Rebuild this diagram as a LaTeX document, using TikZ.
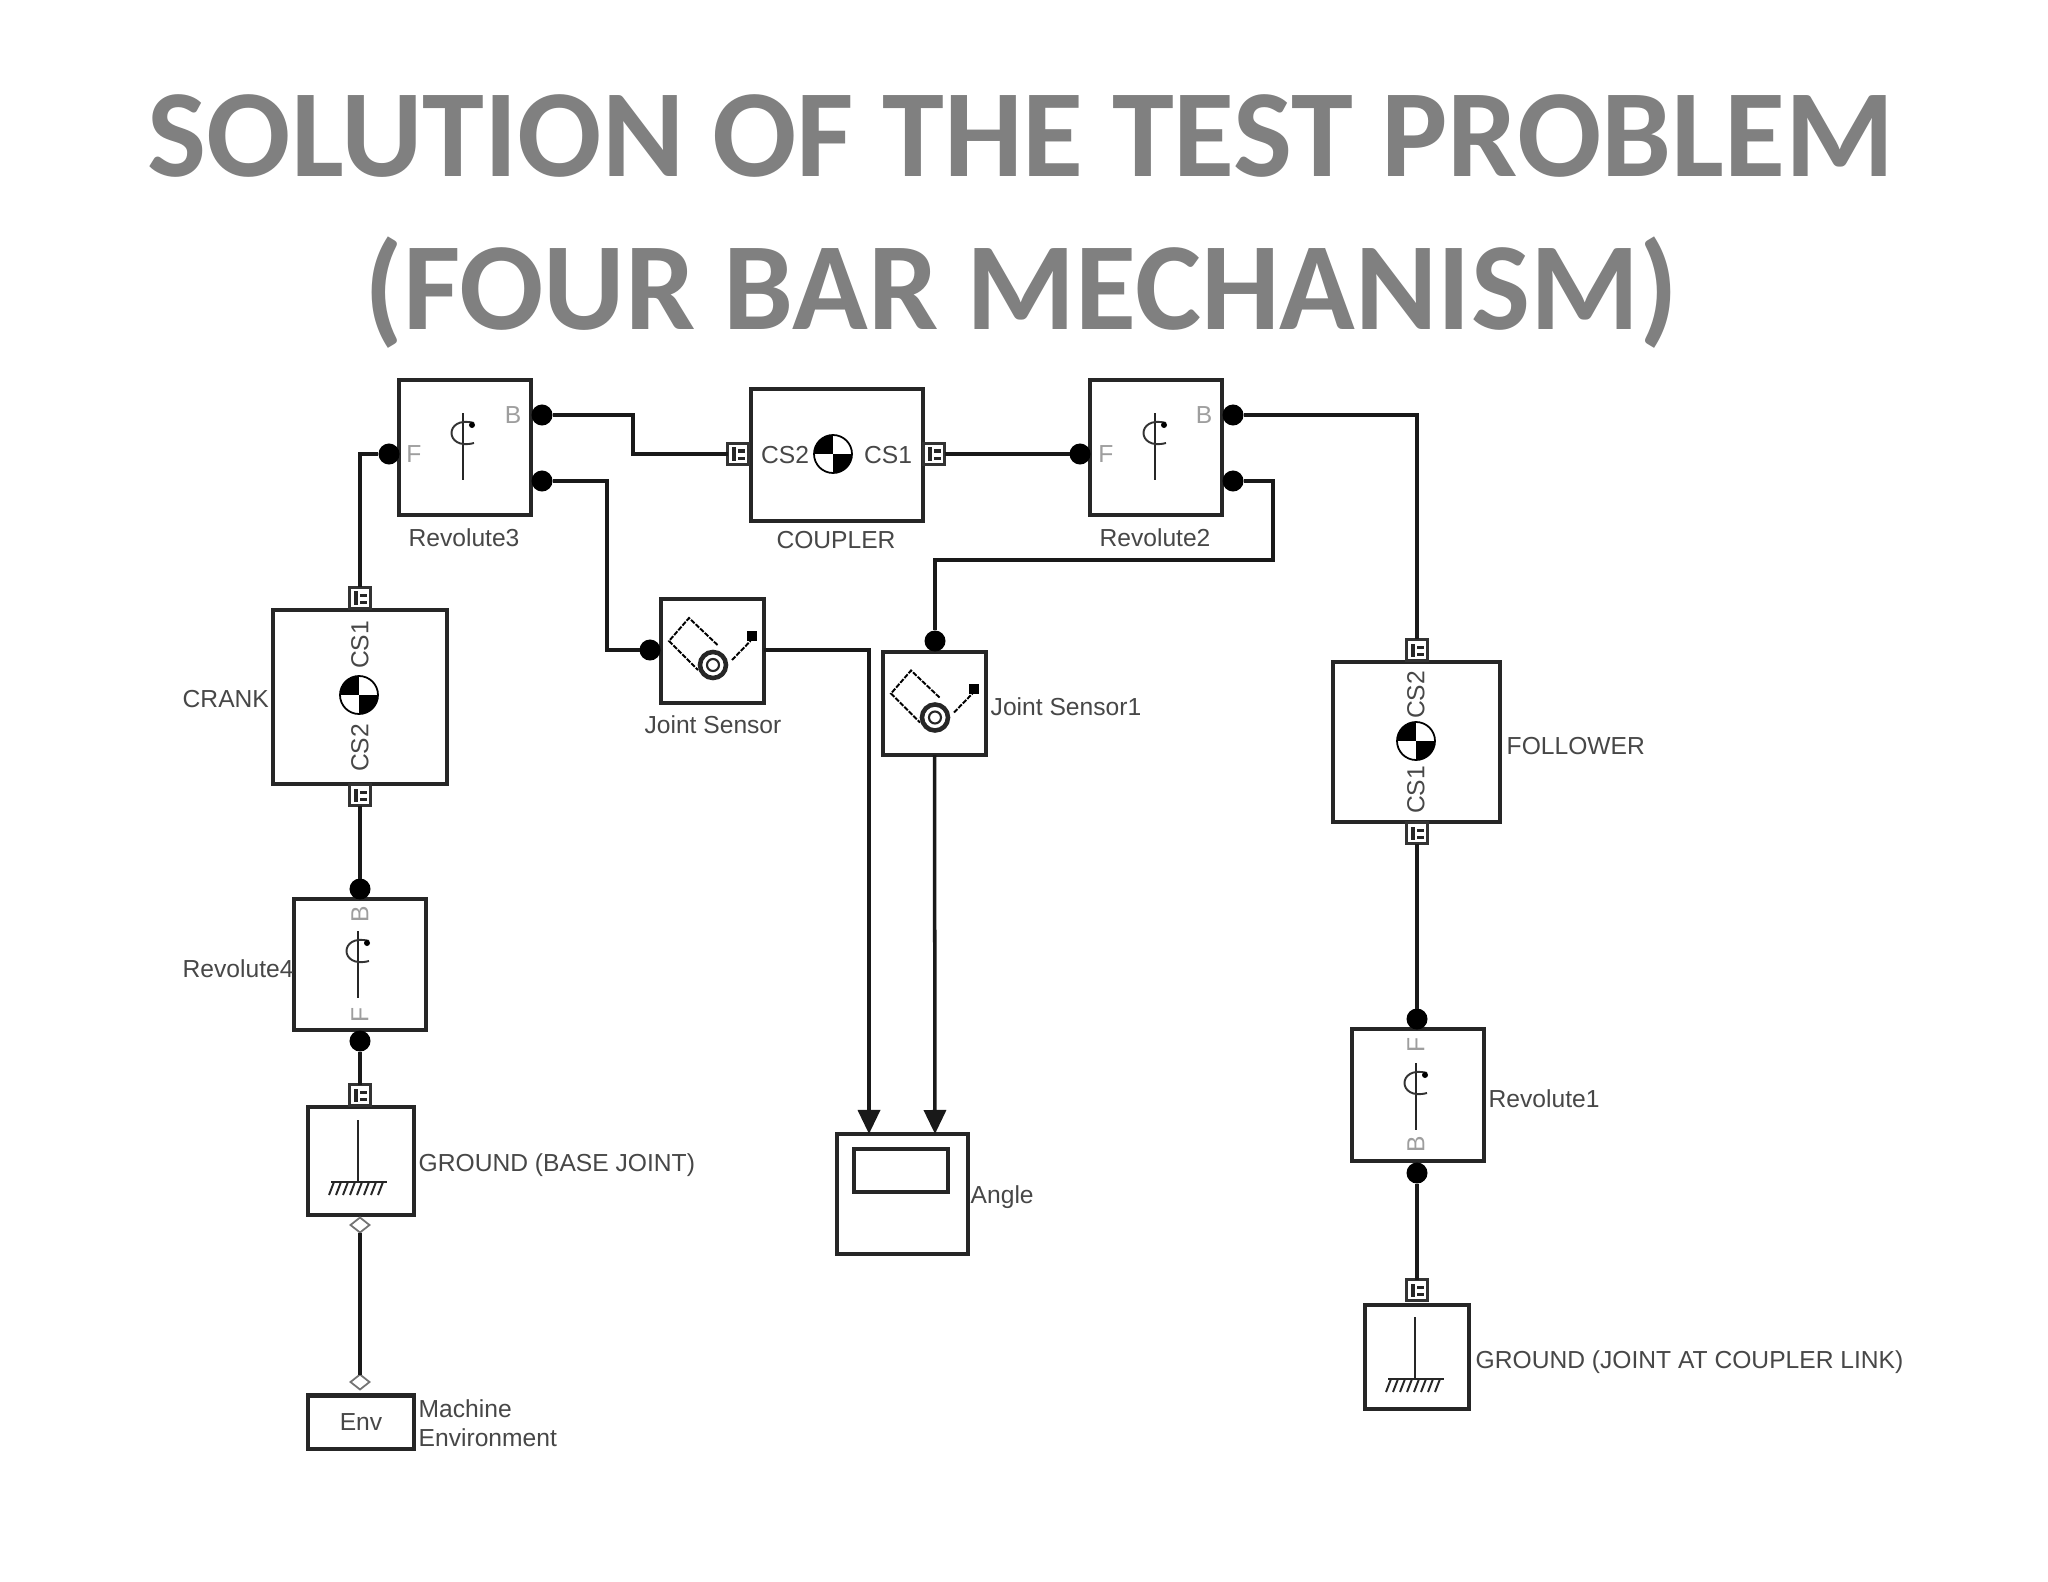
\documentclass[tikz,border=0pt]{standalone}
\usepackage{fontspec}
\setmainfont{Liberation Sans}
\newfontfamily\titlefont{Carlito}
\usepackage{tikz}
\usetikzlibrary{arrows.meta,shapes.geometric}
\begin{document}
\begin{tikzpicture}[x=0.01cm,y=-0.01cm,>={Triangle[length=2.4mm,width=2.2mm]},line cap=butt,
  font=\fontsize{7pt}{8pt}\selectfont,
  titletext/.style={anchor=base,text=black!50,font=\titlefont\bfseries\fontsize{35.5pt}{40pt}\selectfont},
  blockbox/.style={draw=black!85,text=black!72,line width=1.15pt,fill=white,inner sep=0pt,outer sep=0pt},
  blocklabel/.style={text=black!72,inner sep=0pt},
  jointletter/.style={text=black!38,inner sep=0pt},
  wire/.style={draw=black!90,line width=1pt},
  dot/.style={circle,fill=black,inner sep=0pt,outer sep=0pt,minimum size=2.1mm},
  portbox/.style={rectangle,draw=black!80,fill=white,line width=.7pt,inner sep=0pt,outer sep=0pt,minimum size=2.1mm,
    path picture={\fill[black!85] ([shift={(.4mm,.4mm)}]path picture bounding box.south west) rectangle +(.45mm,1.3mm);
      \fill[black!85] ([shift={(1mm,.5mm)}]path picture bounding box.south west) rectangle +(.7mm,.3mm);
      \fill[black!85] ([shift={(1mm,1.2mm)}]path picture bounding box.south west) rectangle +(.7mm,.3mm);}},
  portdiamond/.style={diamond,draw=black!55,fill=white,line width=.5pt,inner sep=0pt,outer sep=0pt,minimum width=1.9mm,minimum height=1.5mm},
  cgmark/.pic={
    \begin{scope}
    \clip (0,0) circle[radius=19];
    \fill (-19,-19) rectangle (0,0);
    \fill (0,0) rectangle (19,19);
    \end{scope}
    \draw[line width=.5pt] (0,0) circle[radius=19];},
  revmark/.pic={
    \draw[line width=.5pt,black!85] (0,0) -- (0,67);
    \draw[line width=.55pt,black!80] (11,10) .. controls (-19,2) and (-19,38) .. (11,30);
    \fill (9,12) circle[radius=3];},
  sensormark/.pic={
    \draw[line width=.55pt,dash pattern=on 1.4pt off .4pt,black] (5,-6) -- (-23.5,-33) -- (-43.5,-10) -- (-14.5,19);
    \draw[line width=1.3pt,black!85] (.5,14) circle[radius=13];
    \draw[line width=.6pt,black!85] (.5,14) circle[radius=6];
    \draw[line width=.55pt,dash pattern=on 1.4pt off .4pt,black] (19.5,9) -- (38,-10);
    \fill (34,-20) rectangle (44,-10);},
  groundmark/.pic={
    \draw[line width=.5pt,black!85] (0,0) -- (0,62);
    \draw[line width=.8pt,black!85] (-27,62) -- (29,62);
    \draw[line width=.55pt,black!85] (-24,62) -- (-29,75) (-17,62) -- (-22,75) (-10,62) -- (-15,75) (-3,62) -- (-8,75)
      (4,62) -- (-1,75) (11,62) -- (6,75) (18,62) -- (13,75) (25,62) -- (20,75);}]
\useasboundingbox (0,0) rectangle (2048,1582);
\fill[white] (0,0) rectangle (2048,1582);
\node[titletext] (title1) at (1021,176) {SOLUTION OF THE TEST PROBLEM};
\node[titletext] (title2) at (1021,329) {(FOUR BAR MECHANISM)};
% blocks
\node[blockbox,minimum width=1.32cm,minimum height=1.35cm] (rev3) at (465,447.5) {};
\node[blockbox,minimum width=1.71cm,minimum height=1.32cm] (coupler) at (837,455) {};
\node[blockbox,minimum width=1.32cm,minimum height=1.35cm] (rev2) at (1156,447.5) {};
\node[blockbox,minimum width=1.74cm,minimum height=1.74cm] (crank) at (360,697) {};
\node[blockbox,minimum width=1.03cm,minimum height=1.04cm] (sensor) at (712.5,651) {};
\node[blockbox,minimum width=1.03cm,minimum height=1.03cm] (sensor1) at (934.5,703.5) {};
\node[blockbox,minimum width=1.67cm,minimum height=1.60cm] (follower) at (1416.5,742) {};
\node[blockbox,minimum width=1.32cm,minimum height=1.31cm] (rev4) at (360,964.5) {};
\node[blockbox,minimum width=1.06cm,minimum height=1.08cm] (ground) at (361,1161) {};
\node[blockbox,minimum width=1.06cm,minimum height=.53cm] (env) at (361,1422) {Env};
\node[blockbox,minimum width=1.31cm,minimum height=1.20cm] (angle) at (902.5,1194) {};
\node[blockbox,minimum width=.94cm,minimum height=.43cm,line width=.9pt] (anglescreen) at (901,1170.5) {};
\node[blockbox,minimum width=1.32cm,minimum height=1.32cm] (rev1) at (1418,1095) {};
\node[blockbox,minimum width=1.04cm,minimum height=1.04cm] (ground1) at (1417,1357) {};
% block icons
\pic at (833,454) {cgmark};
\pic at (359,695) {cgmark};
\pic at (1416,741) {cgmark};
\pic at (463,413) {revmark};
\pic at (1155,413) {revmark};
\pic at (358,931) {revmark};
\pic at (1416,1063) {revmark};
\pic at (712.5,651) {sensormark};
\pic at (934.5,703.5) {sensormark};
\pic at (358,1120) {groundmark};
\pic at (1415,1317) {groundmark};
% letters inside the blocks
\node[jointletter] (rev3F) at (414,454) {F};
\node[jointletter] (rev3B) at (513,415) {B};
\node[jointletter] (rev2F) at (1106,454) {F};
\node[jointletter] (rev2B) at (1204,415) {B};
\node[jointletter,rotate=90] (rev4B) at (360,914) {B};
\node[jointletter,rotate=90] (rev4F) at (360,1015) {F};
\node[jointletter,rotate=90] (rev1F) at (1416,1045) {F};
\node[jointletter,rotate=90] (rev1B) at (1416,1144) {B};
\node[blocklabel] (couplerCSb) at (785,455) {CS2};
\node[blocklabel] (couplerCSa) at (888,455) {CS1};
\node[blocklabel,rotate=90] (crankCSa) at (360,645) {CS1};
\node[blocklabel,rotate=90] (crankCSb) at (360,748) {CS2};
\node[blocklabel,rotate=90] (followerCSb) at (1416,695) {CS2};
\node[blocklabel,rotate=90] (followerCSa) at (1416,790) {CS1};
% names of the blocks
\node[blocklabel] (rev3name) at (464,538) {Revolute3};
\node[blocklabel] (couplername) at (836,540) {COUPLER};
\node[blocklabel] (rev2name) at (1155,538) {Revolute2};
\node[blocklabel,anchor=west] (crankname) at (182,699) {CRANK};
\node[blocklabel] (sensorname) at (713,725) {Joint Sensor};
\node[blocklabel,anchor=west] (sensor1name) at (990,707) {Joint Sensor1};
\node[blocklabel,anchor=west] (followername) at (1506,746) {FOLLOWER};
\node[blocklabel,anchor=west] (rev4name) at (182,969) {Revolute4};
\node[blocklabel,anchor=west] (groundname) at (418,1165) {GROUND (BASE JOINT)};
\node[blocklabel,anchor=west] (anglename) at (970,1197) {Angle};
\node[blocklabel,anchor=west] (rev1name) at (1488,1099) {Revolute1};
\node[blocklabel,anchor=west] (ground1name) at (1475,1362) {GROUND (JOINT AT COUPLER LINK)};
\node[blocklabel,anchor=west] (envnamea) at (418,1409) {Machine};
\node[blocklabel,anchor=west] (envnameb) at (418,1438) {Environment};
% ports
\node[dot] (rev3f) at (389,454) {};
\node[dot] (rev3b) at (542,415) {};
\node[dot] (rev3s) at (542,481) {};
\node[dot] (rev2f) at (1080,454) {};
\node[dot] (rev2b) at (1233,415) {};
\node[dot] (rev2s) at (1233,481) {};
\node[dot] (rev4b) at (360,889) {};
\node[dot] (rev4f) at (360,1041) {};
\node[dot] (rev1f) at (1417,1019) {};
\node[dot] (rev1b) at (1417,1173) {};
\node[dot] (sensorin) at (650,650) {};
\node[dot] (sensor1in) at (935,641) {};
\node[portbox] (couplerb) at (738,454) {};
\node[portbox] (couplera) at (934,454) {};
\node[portbox] (cranka) at (360,598) {};
\node[portbox] (crankb) at (360,795) {};
\node[portbox] (followerb) at (1417,650) {};
\node[portbox] (followera) at (1417,833) {};
\node[portbox] (groundp) at (360,1095) {};
\node[portbox] (ground1p) at (1417,1290) {};
\node[portdiamond] (grounde) at (360,1225) {};
\node[portdiamond] (enve) at (360,1382) {};
% bends
\coordinate (bendA) at (633,415);
\coordinate (bendB) at (607,481);
\coordinate (bendC) at (1273,481);
\coordinate (bendD) at (1273,560);
\coordinate (bendE) at (869,650);
\coordinate (angleA) at (869,1134);
\coordinate (angleB) at (935,1134);
% connections
\draw[wire] (rev3f) -| (cranka);
\draw[wire] (rev3b) -- (bendA) |- (couplerb);
\draw[wire] (rev3s) -- (bendB) |- (sensorin);
\draw[wire] (couplera) -- (rev2f);
\draw[wire] (rev2b) -| (followerb);
\draw[wire] (rev2s) -- (bendC) -- (bendD) -| (sensor1in);
\draw[wire,->] (sensor.east |- bendE) -- (bendE) -- (angleA);
\draw[wire,->] (sensor1.south) -- (angleB);
\draw[wire] (crankb) -- (rev4b);
\draw[wire] (rev4f) -- (groundp);
\draw[wire] (grounde) -- (enve);
\draw[wire] (followera) -- (rev1f);
\draw[wire] (rev1b) -- (ground1p);
\end{tikzpicture}
\end{document}
